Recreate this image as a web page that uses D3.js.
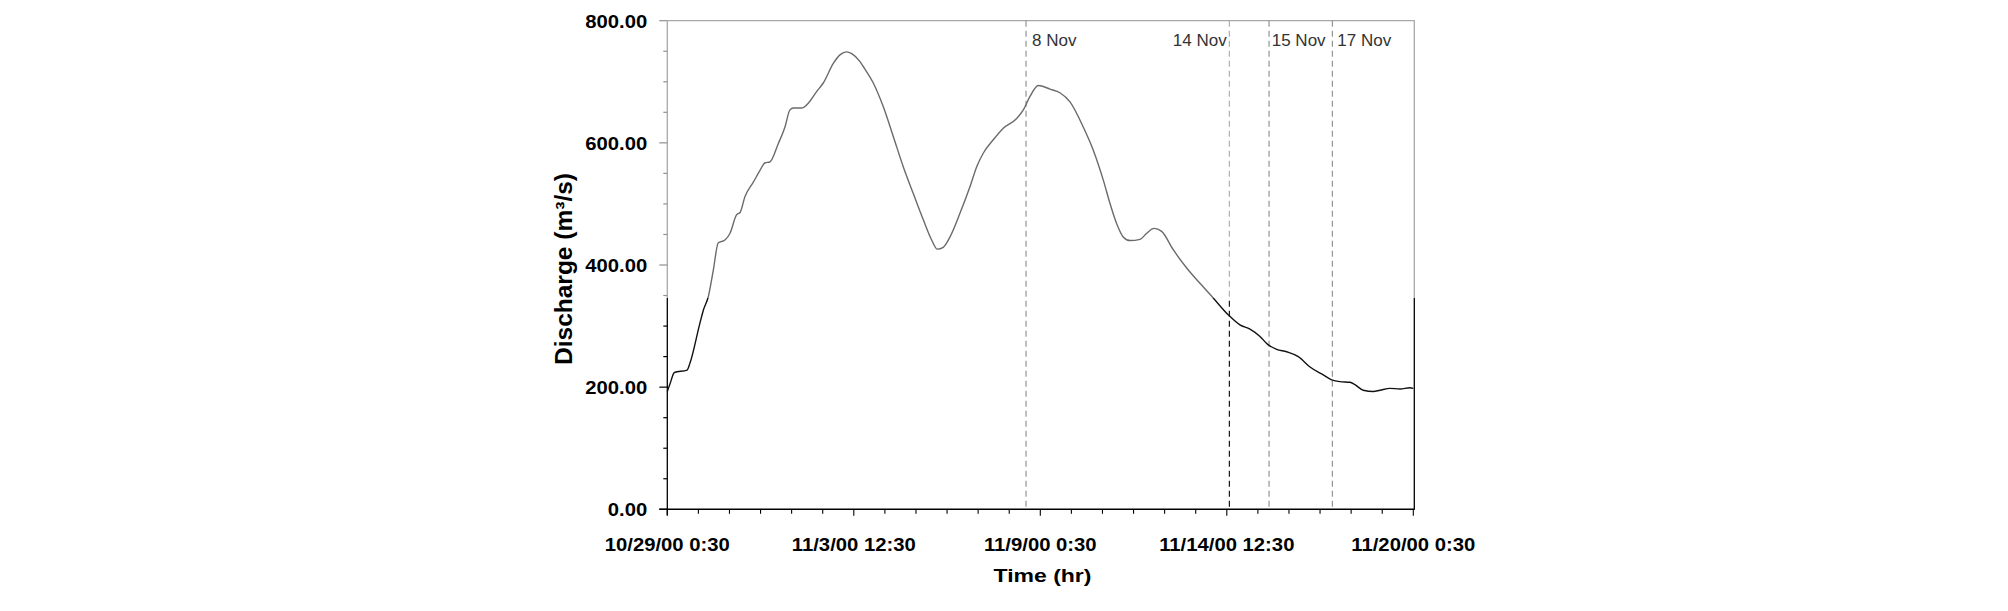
<!DOCTYPE html>
<html>
<head>
<meta charset="utf-8">
<script src="https://cdn.jsdelivr.net/npm/d3@7"></script>
<style>
  html, body { margin: 0; padding: 0; background: #fff; }
  svg { display: block; }
  text { font-family: "Liberation Sans", Arial, sans-serif; }
</style>
</head>
<body>
<svg id="chart" width="2008" height="611"></svg>
<script>
// ---- Data (hours since 10/29/00 0:30, discharge in m3/s) ----
const hours = [0, 2, 5, 14, 16, 23, 25.5, 29, 32.6, 36, 40.8, 44.4, 49, 51.5, 55, 61, 65.6, 69, 72.7, 78.6,
  83.3, 86.8, 89.2, 95.1, 99.8, 105.7, 110.4, 117.5, 122.2, 127, 130.5, 136.4, 138.7, 145.8, 152.9, 160,
  167, 174.1, 181.2, 187.1, 191.1, 195.3, 200.1, 207.2, 214.2, 219, 223.6, 230.7, 237.8, 247.3, 252,
  256.7, 262.6, 270.9, 277.9, 285, 294.4, 301.5, 308.6, 313.3, 318, 322.7, 327.5, 334.6, 339.3, 344.5,
  349.9, 358.1, 367.6, 377, 386.4, 397.2, 405.3, 412.4, 419.5, 424.9, 431.3, 438.4, 446.6, 454.9, 464.3,
  470.2, 476.1, 483.2, 486.7, 492.6, 499.7, 504.4, 511.5, 518.6, 525.6, 528];
const discharge = [193, 206, 224, 228, 239, 304, 326, 348, 392, 436, 441, 452, 482, 486, 512, 536, 555, 567, 569, 599,
  626, 654, 657, 657, 665, 684, 698, 730, 744, 749, 746, 733, 725, 698, 659, 610,
  561, 517, 474, 441, 426, 429, 446, 485, 528, 561, 583, 605, 624, 640, 654,
  676, 694, 688, 682, 667, 626, 588, 539, 501, 468, 446, 440, 442, 452, 460,
  455, 425, 395, 370, 346, 318, 302, 295, 283, 270, 262, 258, 250, 233, 220,
  212, 209, 208, 204, 195, 193, 195, 198, 197, 199, 198];

const xTickLabels = ["10/29/00 0:30", "11/3/00 12:30", "11/9/00 0:30", "11/14/00 12:30", "11/20/00 0:30"];
const xTickHours = [0, 132, 264, 396, 528];
const yTickValues = [0, 200, 400, 600, 800];

const markerLabels = ["8 Nov", "14 Nov", "15 Nov", "17 Nov"];
const markerHours = [253.9, 397.8, 425.9, 470.7];
const markerAnchor = ["start", "end", "start", "start"];

// ---- Layout ----
const svg = d3.select("#chart");
const X0 = 667.3, X1 = 1413.3, Ytop = 20.7, Ybot = 509.3;
const SPLIT = 298; // upper part of the picture is faded

const x = d3.scaleLinear().domain([0, 528]).range([X0, X1]);
const y = d3.scaleLinear().domain([0, 800]).range([Ybot, Ytop]);

// gradients: faded above SPLIT, dark below
const defs = svg.append("defs");
function grad(id, upper, lower) {
  const g = defs.append("linearGradient").attr("id", id)
    .attr("gradientUnits", "userSpaceOnUse")
    .attr("x1", 0).attr("y1", 0).attr("x2", 0).attr("y2", 611);
  const o = SPLIT / 611;
  g.append("stop").attr("offset", 0).attr("stop-color", upper);
  g.append("stop").attr("offset", o).attr("stop-color", upper);
  g.append("stop").attr("offset", o).attr("stop-color", lower);
  g.append("stop").attr("offset", 1).attr("stop-color", lower);
}
grad("gCurve", "#6a6a6a", "#111");
grad("gFrame", "#a8a8a8", "#000");
grad("gTick", "#909090", "#000");

// frame top + right
svg.append("line").attr("x1", X0).attr("x2", X1 + 1.5).attr("y1", Ytop).attr("y2", Ytop)
  .attr("stroke", "#a8a8a8").attr("stroke-width", 1.2);
svg.append("line").attr("x1", X1 + 1).attr("x2", X1 + 1).attr("y1", Ytop).attr("y2", Ybot)
  .attr("stroke", "url(#gFrame)").attr("stroke-width", 1.3);

// y axis
svg.append("line").attr("x1", X0).attr("x2", X0).attr("y1", Ytop).attr("y2", Ybot + 6)
  .attr("stroke", "url(#gFrame)").attr("stroke-width", 1.3);
const yMinor = d3.range(0, 801, 50);
svg.append("g").selectAll("line").data(yMinor).join("line")
  .attr("x1", d => d % 200 === 0 ? X0 - 8 : X0 - 4).attr("x2", X0)
  .attr("y1", d => y(d)).attr("y2", d => y(d))
  .attr("stroke", "url(#gTick)").attr("stroke-width", 1.2);

const fmt = d3.format(".2f");
const yLab = svg.append("g").selectAll("text").data(yTickValues).join("text")
  .attr("x", 647.3).attr("y", d => y(d) + 7)
  .attr("text-anchor", "end")
  .attr("font-size", 18.6).attr("font-weight", "bold").attr("fill", "#000")
  .text(d => fmt(d));

// x axis
svg.append("line").attr("x1", X0 - 8).attr("x2", X1 + 1.5).attr("y1", Ybot).attr("y2", Ybot)
  .attr("stroke", "#000").attr("stroke-width", 1.4);
const xMinor = d3.range(0, 529, 22);
svg.append("g").selectAll("line").data(xMinor).join("line")
  .attr("x1", d => x(d)).attr("x2", d => x(d))
  .attr("y1", Ybot).attr("y2", d => xTickHours.includes(d) ? Ybot + 6.5 : Ybot + 4.5)
  .attr("stroke", "#000").attr("stroke-width", 1.1);

const xLab = svg.append("g").selectAll("text").data(xTickHours).join("text")
  .attr("x", d => x(d)).attr("y", 551)
  .attr("text-anchor", "middle")
  .attr("font-size", 18.6).attr("font-weight", "bold").attr("fill", "#000")
  .text((d, i) => xTickLabels[i]);

// stretch tick labels slightly horizontally (as in reference)
[yLab, xLab].forEach(sel => sel.each(function() {
  const w = this.getComputedTextLength();
  d3.select(this).attr("textLength", w * 1.09).attr("lengthAdjust", "spacingAndGlyphs");
}));

// marker dashed lines
const markers = markerHours.map((h, i) => ({h, label: markerLabels[i], anchor: markerAnchor[i]}));
svg.append("g").selectAll("line").data(markers).join("line")
  .attr("x1", d => x(d.h)).attr("x2", d => x(d.h))
  .attr("y1", Ytop).attr("y2", Ybot)
  .attr("stroke", d => d.label === "14 Nov" ? "url(#gFrame)" : "#8a8a8a")
  .attr("stroke-width", 1.1)
  .attr("stroke-dasharray", "6,4");
svg.append("g").selectAll("text").data(markers).join("text")
  .attr("x", d => x(d.h) + (d.anchor === "end" ? -2.6 : (d.label === "15 Nov" ? 2.7 : (d.label === "17 Nov" ? 5 : 6))))
  .attr("y", 45.7)
  .attr("text-anchor", d => d.anchor)
  .attr("font-size", 17).attr("fill", "#333")
  .text(d => d.label);

// discharge curve
const pts = hours.map((h, i) => [h, discharge[i]]);
const line = d3.line().x(d => x(d[0])).y(d => y(d[1])).curve(d3.curveMonotoneX);
svg.append("path").datum(pts)
  .attr("d", line)
  .attr("fill", "none")
  .attr("stroke", "url(#gCurve)")
  .attr("stroke-width", 1.4)
  .attr("stroke-linejoin", "round");

// axis titles
svg.append("text")
  .attr("x", 1042.5).attr("y", 581.7)
  .attr("text-anchor", "middle")
  .attr("font-size", 18.6).attr("font-weight", "bold").attr("fill", "#000")
  .attr("textLength", 98).attr("lengthAdjust", "spacingAndGlyphs")
  .text("Time (hr)");

svg.append("text")
  .attr("transform", "translate(571.7,269) rotate(-90)")
  .attr("text-anchor", "middle")
  .attr("font-size", 23).attr("font-weight", "bold").attr("fill", "#000")
  .attr("textLength", 192).attr("lengthAdjust", "spacingAndGlyphs")
  .text("Discharge (m³/s)");
</script>
</body>
</html>
